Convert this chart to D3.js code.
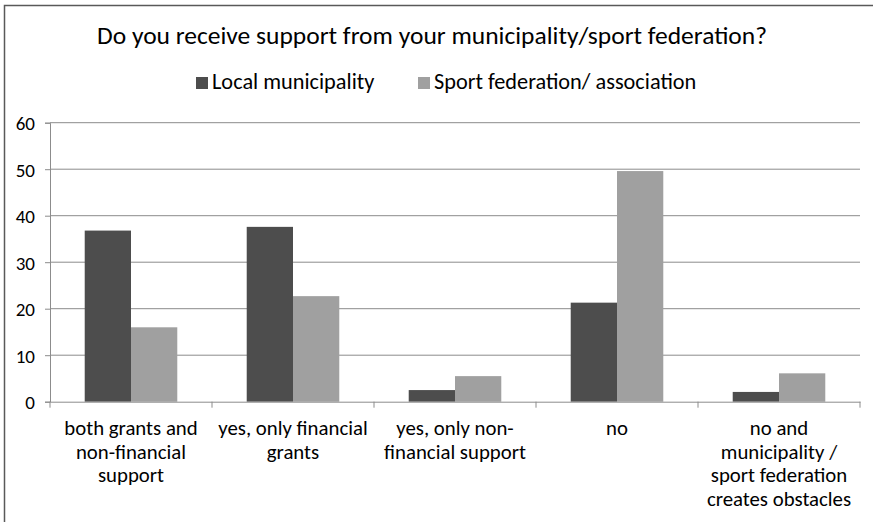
<!DOCTYPE html>
<html>
<head>
<meta charset="utf-8">
<script src="https://cdn.jsdelivr.net/npm/d3@7"></script>
<style>
html, body { margin: 0; background: #fff; overflow: hidden; }
svg { display: block; }
svg text { font-family: Carlito, Lato, "Open Sans", sans-serif; fill: #000; }
</style>
</head>
<body>
<script>
"use strict";
const categories = ["both grants and non-financial support", "yes, only financial grants", "yes, only non-financial support", "no", "no and municipality / sport federation creates obstacles"];
const labelLines = [["both grants and", "non-financial", "support"], ["yes, only financial", "grants"], ["yes, only non-", "financial support"], ["no"], ["no and", "municipality /", "sport federation", "creates obstacles"]];
const seriesNames = ["Local municipality", "Sport federation/ association"];
const local = [36.8, 37.6, 2.5, 21.3, 2.1];
const federation = [16.0, 22.7, 5.5, 49.6, 6.1];
const yTicks = [0, 10, 20, 30, 40, 50, 60];
const colors = ["#4d4d4d", "#a0a0a0"];

const w = 873, h = 522;
const pLeft = 50, pRight = 860, pTop = 122.7, pBottom = 401.7;
const svg = d3.select("body").append("svg").attr("width", w).attr("height", h);

// outer frame, only left and top edges show
svg.append("rect").attr("x", 4.5).attr("y", 5.5).attr("width", w + 10).attr("height", h + 10)
	.attr("fill", "#fff").attr("stroke", "#595959").attr("stroke-width", 1.5);

const x = d3.scaleBand().domain(categories).range([pLeft, pRight]);
const inner = d3.scaleBand().domain(seriesNames).range([0, x.bandwidth()]).paddingOuter(0.75).paddingInner(0);
const y = d3.scaleLinear().domain([0, 60]).range([pBottom, pTop]);

// gridlines
svg.append("g").selectAll("line").data(yTicks.slice(1)).enter().append("line")
	.attr("x1", pLeft).attr("x2", pRight).attr("y1", d => y(d)).attr("y2", d => y(d))
	.attr("stroke", "#8c8c8c").attr("stroke-width", 1);

// bars
const series = [local, federation];
series.forEach((vals, s) => {
	svg.append("g").selectAll("rect").data(vals).enter().append("rect")
		.attr("x", (d, i) => x(categories[i]) + inner(seriesNames[s]))
		.attr("width", inner.bandwidth())
		.attr("y", d => y(d))
		.attr("height", d => y(0) - y(d))
		.attr("fill", colors[s]);
});

// y axis
const yAxis = svg.append("g").attr("transform", "translate(" + pLeft + ",0)")
	.call(d3.axisLeft(y).tickValues(yTicks).tickSize(5).tickPadding(10));
yAxis.select(".domain").attr("stroke", "#8c8c8c");
yAxis.selectAll(".tick line").attr("stroke", "#8c8c8c");
yAxis.selectAll("text").style("font-size", "19px").attr("dy", "0.36em");

// x axis
const xAxis = svg.append("g").attr("transform", "translate(0," + pBottom + ")")
	.call(d3.axisBottom(x).tickSize(0).tickFormat(""));
xAxis.select(".domain").attr("stroke", "#8c8c8c");
xAxis.selectAll(".tick").remove();
xAxis.selectAll("line.sep").data(d3.range(categories.length + 1)).enter().append("line").attr("class", "sep")
	.attr("x1", i => pLeft + i * x.step()).attr("x2", i => pLeft + i * x.step())
	.attr("y1", 0).attr("y2", 6).attr("stroke", "#8c8c8c");

// category labels
categories.forEach((c, i) => {
	const cx = x(c) + x.bandwidth() / 2;
	const t = svg.append("text").attr("text-anchor", "middle").style("font-size", "20.8px")
		.attr("x", cx).attr("y", 435);
	labelLines[i].forEach((ln, j) => {
		t.append("tspan").attr("x", cx).attr("dy", j ? 23.6 : 0).text(ln);
	});
});

// title
svg.append("text").attr("x", 432).attr("y", 44).attr("text-anchor", "middle")
	.style("font-size", "25.5px").text("Do you receive support from your municipality/sport federation?");

// legend
const legendX = [196, 418];
seriesNames.forEach((n, s) => {
	svg.append("rect").attr("x", legendX[s]).attr("y", 77).attr("width", 12).attr("height", 12).attr("fill", colors[s]);
	svg.append("text").attr("x", legendX[s] + 16).attr("y", 89).style("font-size", "22.3px").text(n);
});
</script>
</body>
</html>
